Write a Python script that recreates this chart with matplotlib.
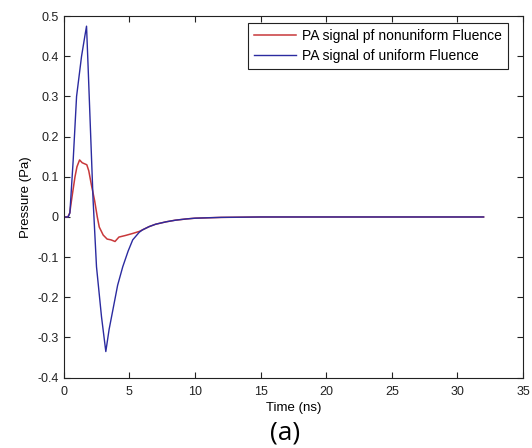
import numpy as np
import matplotlib.pyplot as plt

plt.rcParams['font.family'] = ['Liberation Sans', 'DejaVu Sans']

# PA signal, uniform fluence (blue)
t_uni = [0, 0.33, 0.46, 0.71, 0.97, 1.35, 1.6, 1.73, 1.85, 2.04, 2.23, 2.49, 2.87,
         3.2, 3.45, 3.74, 4.1, 4.49, 4.9, 5.25, 5.75, 6.0, 6.5, 7.0, 7.8, 8.5, 9.3,
         10.0, 12.0, 15.0, 20.0, 25.0, 32.0]
p_uni = [0, 0, 0.01, 0.14, 0.30, 0.40, 0.45, 0.475, 0.374, 0.208, 0.042, -0.124, -0.248,
         -0.335, -0.28, -0.231, -0.17, -0.124, -0.085, -0.057, -0.038, -0.032, -0.024, -0.018,
         -0.012, -0.008, -0.005, -0.003, -0.001, 0, 0, 0, 0]

# PA signal, nonuniform fluence (red)
t_non = [0, 0.3, 0.45, 0.6, 0.85, 1.0, 1.2, 1.4, 1.75, 1.9, 2.1, 2.35, 2.55, 2.7, 3.0,
         3.3, 3.6, 3.9, 4.2, 4.7, 5.25, 5.75, 6.0, 6.5, 7.0, 7.8, 8.5, 9.3, 10.0, 12.0,
         15.0, 20.0, 25.0, 32.0]
p_non = [0, 0, 0.01, 0.045, 0.10, 0.125, 0.142, 0.135, 0.13, 0.115, 0.08, 0.04, 0.0,
         -0.025, -0.045, -0.055, -0.057, -0.061, -0.05, -0.046, -0.041, -0.036, -0.032,
         -0.024, -0.018, -0.012, -0.008, -0.005, -0.003, -0.001, 0, 0, 0, 0]

fig = plt.figure(figsize=(5.32, 4.48), dpi=100)
ax = fig.add_axes([0.120, 0.157, 0.863, 0.807])

ax.plot(t_non, p_non, color='#c8383a', linewidth=1.1, label='PA signal pf nonuniform Fluence')
ax.plot(t_uni, p_uni, color='#2b2ba0', linewidth=1.0, label='PA signal of uniform Fluence')

ax.set_xlim(0, 35)
ax.set_ylim(-0.4, 0.5)
ax.set_xticks(np.arange(0, 36, 5))
ax.set_yticks(np.arange(-0.4, 0.51, 0.1))
ax.set_yticklabels(['-0.4', '-0.3', '-0.2', '-0.1', '0', '0.1', '0.2', '0.3', '0.4', '0.5'])
ax.tick_params(direction='in', top=True, right=True, labelsize=9, length=4, colors='#222222')
ax.tick_params(axis='x', pad=6)
for s in ax.spines.values():
    s.set_color('#222222')

ax.set_xlabel('Time (ns)', fontsize=9.5, labelpad=3)
ax.set_ylabel('Pressure (Pa)', fontsize=9.5, labelpad=4)

leg = ax.legend(loc='upper right', fontsize=10, fancybox=False, framealpha=1,
                edgecolor='#222222', borderpad=0.45, handlelength=3.0, handletextpad=0.4,
                labelspacing=0.4, borderaxespad=0, bbox_to_anchor=(0.967, 0.981))
leg.get_frame().set_linewidth(0.8)

fig.text(0.536, 0.02, '(a)', fontsize=19, ha='center', family='Open Sans')

fig.savefig('out.png', dpi=100)
